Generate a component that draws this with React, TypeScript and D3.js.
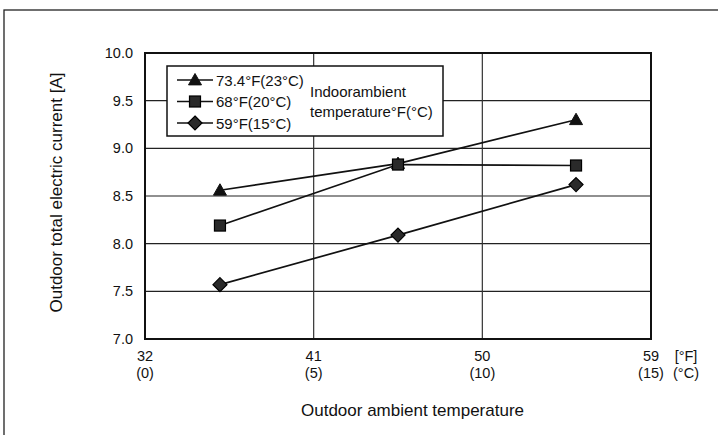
import React from "react";
import * as d3 from "d3";

const xTicksF = [32, 41, 50, 59];
const xTicksC = ["(0)", "(5)", "(10)", "(15)"];
const yTicks = [7.0, 7.5, 8.0, 8.5, 9.0, 9.5, 10.0];
const outdoorF = [36, 45.5, 55];
const series23 = [8.56, 8.84, 9.30];
const series20 = [8.19, 8.83, 8.82];
const series15 = [7.57, 8.09, 8.62];
const legendLabels = ["73.4°F(23°C)", "68°F(20°C)", "59°F(15°C)"];
const markers = ["triangle", "square", "diamond"];

const W = 718, H = 435;
const L = 145, R = 651, T = 53, B = 339;
const FONT = "Arial, 'Liberation Sans', sans-serif";

function Marker({ type, x, y }: { type: string; x: number; y: number }) {
  if (type === "triangle") {
    const s = 6.5;
    return <path d={`M${x},${y - s} L${x + s},${y + s * 0.75} L${x - s},${y + s * 0.75} Z`} fill="#111" stroke="#111" strokeWidth={1} />;
  }
  if (type === "square") {
    const s = 5.5;
    return <rect x={x - s} y={y - s} width={2 * s} height={2 * s} fill="#2a2a2a" stroke="#000" strokeWidth={1.2} />;
  }
  const s = 7;
  return <path d={`M${x},${y - s} L${x + s},${y} L${x},${y + s} L${x - s},${y} Z`} fill="#2a2a2a" stroke="#000" strokeWidth={1.2} />;
}

export default function App() {
  const x = d3.scaleLinear().domain([32, 59]).range([L, R]);
  const y = d3.scaleLinear().domain([7, 10]).range([B, T]);
  const line = d3.line<number>().x((_, i) => x(outdoorF[i])).y((d) => y(d));
  const all = [series23, series20, series15];
  return (
    <svg width={W} height={H} style={{ position: "absolute", left: 0, top: 0 }} fontFamily={FONT}>
      <rect x={0} y={0} width={W} height={H} fill="#fff" />
      <rect x={4} y={10} width={W + 10} height={H + 10} fill="none" stroke="#222" strokeWidth={1.3} />
      {yTicks.slice(1, -1).map((t) => (
        <line key={t} x1={L} x2={R} y1={y(t)} y2={y(t)} stroke="#222" strokeWidth={1.2} />
      ))}
      {xTicksF.slice(1, -1).map((t) => (
        <line key={t} x1={x(t)} x2={x(t)} y1={T} y2={B} stroke="#333" strokeWidth={1.2} />
      ))}
      <rect x={L} y={T} width={R - L} height={B - T} fill="none" stroke="#111" strokeWidth={2} />
      {yTicks.map((t) => (
        <text key={t} x={133} y={y(t) + 5} textAnchor="end" fontSize={14.5} fill="#111">{t.toFixed(1)}</text>
      ))}
      {xTicksF.map((t, i) => (
        <g key={t}>
          <text x={x(t)} y={361} textAnchor="middle" fontSize={14.5} fill="#111">{t}</text>
          <text x={x(t)} y={378} textAnchor="middle" fontSize={14.5} fill="#111">{xTicksC[i]}</text>
        </g>
      ))}
      <text x={686} y={361} textAnchor="middle" fontSize={14.5} fill="#111">[°F]</text>
      <text x={686} y={378} textAnchor="middle" fontSize={14.5} fill="#111">(°C)</text>
      <text x={412.5} y={416} textAnchor="middle" fontSize={17} fill="#111">Outdoor ambient temperature</text>
      <text transform={`translate(62,192.5) rotate(-90)`} textAnchor="middle" fontSize={17} fill="#111">Outdoor total electric current [A]</text>
      {all.map((s, k) => (
        <g key={k}>
          <path d={line(s) || ""} fill="none" stroke="#111" strokeWidth={1.7} />
          {s.map((v, i) => <Marker key={i} type={markers[k]} x={x(outdoorF[i])} y={y(v)} />)}
        </g>
      ))}
      <rect x={167} y={66} width={276} height={70} fill="#fff" stroke="#111" strokeWidth={1.5} />
      {legendLabels.map((lab, i) => {
        const ly = 80 + i * 21.5;
        return (
          <g key={lab}>
            <line x1={177} x2={213} y1={ly} y2={ly} stroke="#111" strokeWidth={1.7} />
            <Marker type={markers[i]} x={195} y={ly} />
            <text x={216} y={ly + 5.5} fontSize={15} fill="#111">{lab}</text>
          </g>
        );
      })}
      <text x={310} y={97} fontSize={15} fill="#111">Indoorambient</text>
      <text x={310} y={117} fontSize={15} fill="#111">temperature°F(°C)</text>
    </svg>
  );
}
